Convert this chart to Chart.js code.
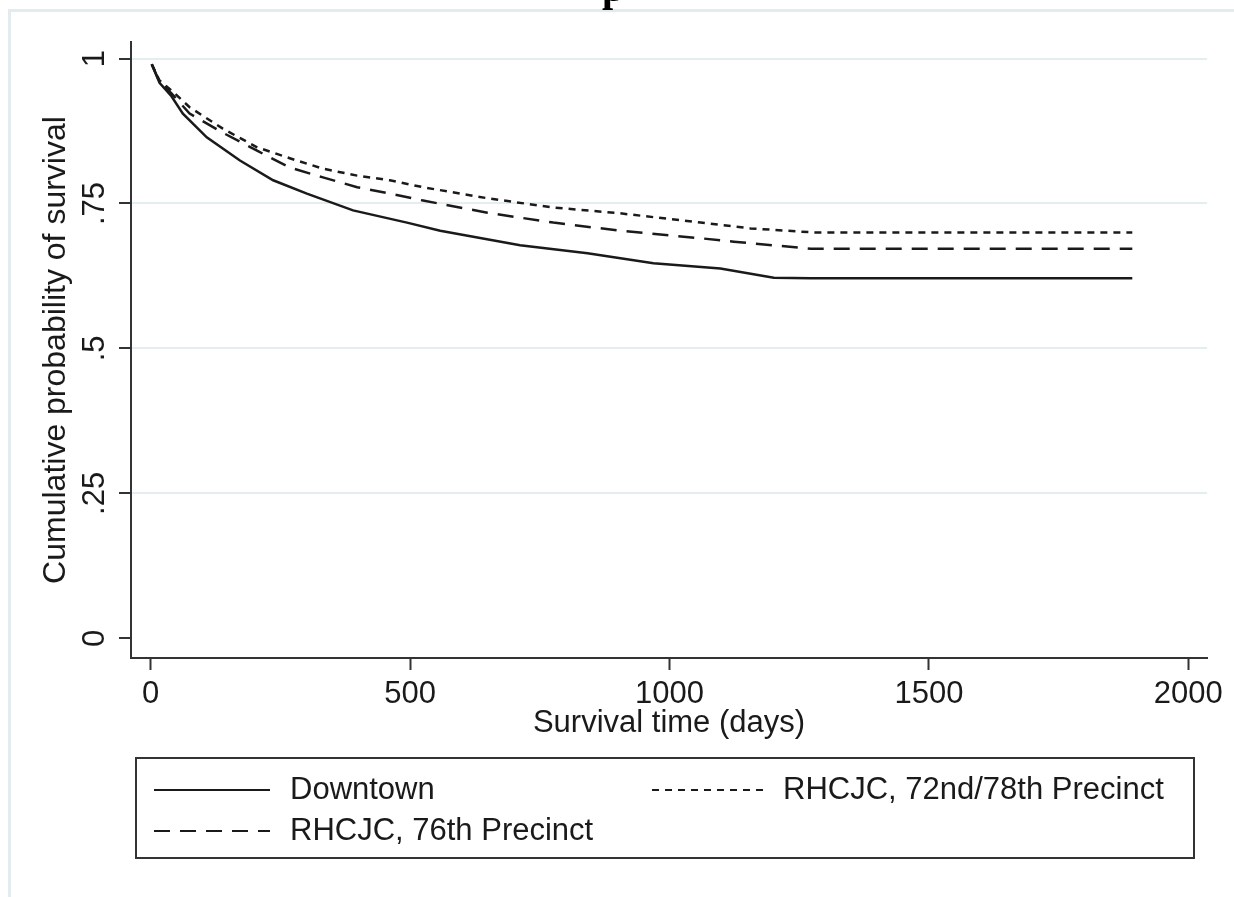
<!DOCTYPE html>
<html>
<head>
<meta charset="utf-8">
<script src="https://cdn.jsdelivr.net/npm/chart.js@4"></script>
<style>
  html, body { margin: 0; padding: 0; background: #fff; }
  canvas { display: block; }
</style>
</head>
<body>
<canvas id="km" width="1234" height="897"></canvas>
<script>
// survival curves (days, cumulative probability)
const downtownDays = [2, 17, 40, 62, 108, 172, 236, 301, 390, 494, 558, 712, 842, 969, 1098, 1201, 1272, 1892];
const downtownSurv = [0.990, 0.958, 0.935, 0.905, 0.864, 0.824, 0.790, 0.767, 0.738, 0.717, 0.703, 0.678, 0.664, 0.647, 0.638, 0.622, 0.621, 0.621];

const p7278Days = [2, 17, 40, 75, 139, 205, 268, 332, 398, 461, 525, 649, 776, 905, 1060, 1156, 1278, 1892];
const p7278Surv = [0.990, 0.962, 0.945, 0.916, 0.879, 0.847, 0.828, 0.810, 0.798, 0.790, 0.778, 0.759, 0.743, 0.733, 0.717, 0.707, 0.700, 0.700];

const p76Days = [2, 17, 40, 75, 139, 205, 268, 332, 398, 461, 525, 649, 776, 905, 1060, 1124, 1272, 1892];
const p76Surv = [0.990, 0.960, 0.940, 0.905, 0.872, 0.841, 0.812, 0.795, 0.778, 0.767, 0.755, 0.734, 0.717, 0.703, 0.690, 0.684, 0.672, 0.672];

const seriesNames = ["Downtown", "RHCJC, 72nd/78th Precinct", "RHCJC, 76th Precinct"];
const xTicks = [0, 500, 1000, 1500, 2000];
const xTickLabels = ["0", "500", "1000", "1500", "2000"];
const yTicks = [0, 0.25, 0.5, 0.75, 1];
const yTickLabels = ["0", ".25", ".5", ".75", "1"];

const FONT = "'Liberation Sans', Arial, sans-serif";
const INK = "#1a1a1a";
const GRID = "#e4edf0";

const toPoints = (xs, ys) => xs.map((x, i) => ({ x, y: ys[i] }));

// stata style outer frame + the clipped title
const framePlugin = {
  id: "frame",
  beforeDraw(chart) {
    const c = chart.ctx;
    c.save();
    c.strokeStyle = "#e3ebee";
    c.lineWidth = 3;
    c.strokeRect(9.5, 10.5, 1240, 910);
    c.fillStyle = "#000";
    c.font = "bold 40px 'Liberation Serif', serif";
    c.textAlign = "center";
    c.textBaseline = "alphabetic";
    c.fillText("p", 613, 1);
    c.restore();
  },
};

// two-column boxed legend like stata draws it
const legendBox = {
  id: "legendBox",
  afterDraw(chart) {
    const c = chart.ctx;
    const sets = chart.data.datasets;
    const slots = [
      { lx: 154, tx: 290, y: 790 },
      { lx: 652, tx: 783, y: 790 },
      { lx: 154, tx: 290, y: 831 },
    ];
    c.save();
    c.strokeStyle = "#333";
    c.lineWidth = 2;
    c.strokeRect(136, 758, 1058, 100);
    c.font = "31px " + FONT;
    c.fillStyle = INK;
    c.textBaseline = "middle";
    sets.forEach((ds, i) => {
      const s = slots[i];
      c.beginPath();
      c.setLineDash(ds.borderDash || []);
      c.lineWidth = 2;
      c.strokeStyle = ds.borderColor;
      c.moveTo(s.lx, s.y);
      c.lineTo(s.lx + 116, s.y);
      c.stroke();
      c.setLineDash([]);
      c.fillText(ds.label, s.tx, s.y);
    });
    c.restore();
  },
};

new Chart(document.getElementById("km").getContext("2d"), {
  type: "line",
  data: {
    datasets: [
      { label: seriesNames[0], data: toPoints(downtownDays, downtownSurv), borderColor: INK, borderWidth: 2.5, borderDash: [] },
      { label: seriesNames[1], data: toPoints(p7278Days, p7278Surv), borderColor: INK, borderWidth: 2.5, borderDash: [7, 6] },
      { label: seriesNames[2], data: toPoints(p76Days, p76Surv), borderColor: INK, borderWidth: 2.5, borderDash: [16, 10] },
    ],
  },
  options: {
    responsive: false,
    animation: false,
    parsing: false,
    elements: { point: { radius: 0 }, line: { tension: 0 } },
    layout: { padding: { top: 42, right: 27, left: 0, bottom: 155 } },
    plugins: {
      legend: { display: false },
      tooltip: { enabled: false },
    },
    scales: {
      x: {
        type: "linear",
        min: -38,
        max: 2036,
        afterBuildTicks: (s) => { s.ticks = xTicks.map((v) => ({ value: v })); },
        afterFit: (s) => { s.height = 84; },
        border: { display: true, color: "#333", width: 2 },
        grid: { drawOnChartArea: false, drawTicks: true, tickLength: 12, tickColor: "#333", tickWidth: 2 },
        ticks: {
          color: INK,
          font: { family: FONT, size: 31 },
          padding: 6,
          maxRotation: 0,
          autoSkip: false,
          callback: (v) => xTickLabels[xTicks.indexOf(v)],
        },
        title: { display: true, text: "Survival time (days)", color: INK, font: { family: FONT, size: 31 }, padding: { top: 0, bottom: 0 } },
      },
      y: {
        type: "linear",
        min: -0.034,
        max: 1.0285,
        afterBuildTicks: (s) => { s.ticks = yTicks.map((v) => ({ value: v })); },
        afterFit: (s) => { s.width = 131; },
        border: { display: true, color: "#333", width: 2 },
        grid: {
          color: (ctx) => (ctx.tick && ctx.tick.value === 0 ? "rgba(0,0,0,0)" : GRID),
          lineWidth: 2,
          tickLength: 12,
          tickColor: "#333",
          tickWidth: 2,
        },
        ticks: {
          color: INK,
          font: { family: FONT, size: 31 },
          padding: 2,
          minRotation: 90,
          maxRotation: 90,
          crossAlign: "center",
          autoSkip: false,
          callback: (v) => yTickLabels[yTicks.indexOf(v)],
        },
        title: { display: true, text: "Cumulative probability of survival", color: INK, font: { family: FONT, size: 32 }, padding: { top: 37, bottom: 0 } },
      },
    },
  },
  plugins: [framePlugin, legendBox],
});
</script>
</body>
</html>
